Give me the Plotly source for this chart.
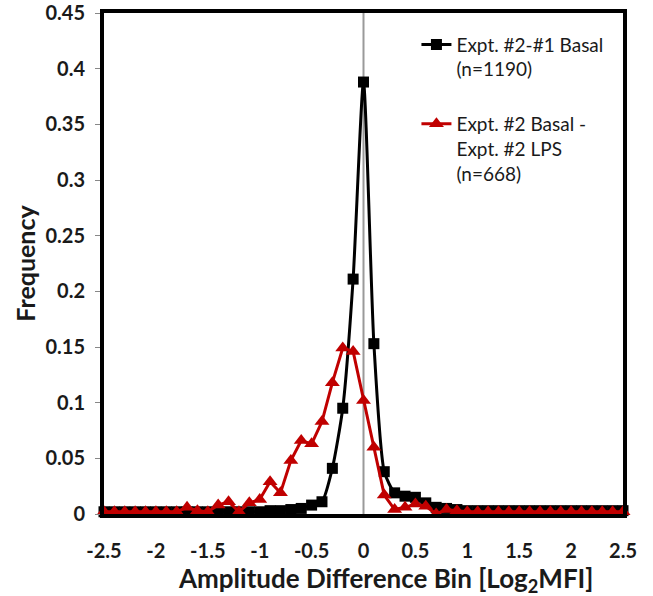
import plotly.graph_objects as go

bins = [-2.5, -2.4, -2.3, -2.2, -2.1, -2.0, -1.9, -1.8, -1.7, -1.6,
        -1.5, -1.4, -1.3, -1.2, -1.1, -1.0, -0.9, -0.8, -0.7, -0.6,
        -0.5, -0.4, -0.3, -0.2, -0.1, 0.0, 0.1, 0.2, 0.3, 0.4,
        0.5, 0.6, 0.7, 0.8, 0.9, 1.0, 1.1, 1.2, 1.3, 1.4,
        1.5, 1.6, 1.7, 1.8, 1.9, 2.0, 2.1, 2.2, 2.3, 2.4, 2.5]

basal_2_1 = [0.002, 0.002, 0.002, 0.002, 0.002, 0.002, 0.002, 0.002, 0.002, 0.002,
             0.002, 0.002, 0.002, 0.002, 0.002, 0.002, 0.003, 0.003, 0.004, 0.005,
             0.008, 0.011, 0.041, 0.095, 0.211, 0.388, 0.153, 0.038, 0.019, 0.016,
             0.015, 0.010, 0.006, 0.005, 0.004, 0.003, 0.003, 0.003, 0.003, 0.003,
             0.003, 0.003, 0.003, 0.003, 0.003, 0.003, 0.003, 0.003, 0.003, 0.003, 0.003]

basal_lps = [0.002, 0.002, 0.002, 0.002, 0.002, 0.002, 0.002, 0.002, 0.006, 0.003,
             0.002, 0.008, 0.011, 0.002, 0.010, 0.013, 0.029, 0.019, 0.048, 0.066,
             0.063, 0.083, 0.118, 0.149, 0.146, 0.102, 0.060, 0.017, 0.004, 0.006,
             0.009, 0.007, 0.000, 0.004, 0.003, 0.002, 0.002, 0.002, 0.002, 0.002,
             0.002, 0.002, 0.002, 0.002, 0.002, 0.002, 0.002, 0.002, 0.002, 0.002, 0.002]

x_tickvals = [-2.5, -2, -1.5, -1, -0.5, 0, 0.5, 1, 1.5, 2, 2.5]
x_ticktext = ["-2.5", "-2", "-1.5", "-1", "-0.5", "0", "0.5", "1", "1.5", "2", "2.5"]
y_tickvals = [0, 0.05, 0.1, 0.15, 0.2, 0.25, 0.3, 0.35, 0.4, 0.45]
y_ticktext = ["0", "0.05", "0.1", "0.15", "0.2", "0.25", "0.3", "0.35", "0.4", "0.45"]

FONT = "Lato"
RED = "#C00000"
TXT = "#1a1a1a"

fig = go.Figure()
fig.add_trace(go.Scatter(
    x=bins, y=basal_2_1, mode="lines+markers",
    name="Expt. #2-#1 Basal<br>(n=1190)", legendgroup="a",
    line=dict(color="black", width=3, shape="spline", smoothing=0.6),
    marker=dict(symbol="square", size=11, color="black"),
    cliponaxis=False,
))
fig.add_trace(go.Scatter(
    x=bins, y=basal_lps, mode="lines+markers",
    name="Expt. #2 Basal -<br>Expt. #2 LPS<br>(n=668)", legendgroup="b",
    line=dict(color=RED, width=3),
    marker=dict(symbol="triangle-up", size=13, color=RED),
    cliponaxis=False,
))

fig.add_shape(type="line", xref="x", yref="paper", x0=0, x1=0, y0=0, y1=1,
              line=dict(color="#9A9A9A", width=2), layer="below")

fig.add_annotation(
    text="Amplitude Difference Bin [Log<sub>2</sub>MFI]",
    xref="paper", yref="paper", x=(385 - 104) / 519, y=-0.13,
    xanchor="center", yanchor="middle", showarrow=False,
    font=dict(size=26, family=FONT, color=TXT, weight="bold"),
)

fig.update_layout(
    width=653, height=596,
    margin=dict(l=104, r=30, t=13, b=82, autoexpand=False),
    paper_bgcolor="white", plot_bgcolor="white",
    font=dict(family=FONT, color=TXT),
    showlegend=True,
    legend=dict(x=0.602, y=0.975, xanchor="left", yanchor="top",
                bgcolor="rgba(0,0,0,0)", font=dict(size=19, family=FONT, color=TXT),
                tracegroupgap=27, valign="top", itemwidth=30),
    xaxis=dict(range=[-2.5, 2.5], tickvals=x_tickvals, ticktext=x_ticktext,
               showgrid=False, zeroline=False, automargin=False,
               showline=True, linewidth=4, linecolor="black", mirror=True,
               ticks="", tickfont=dict(size=20, family=FONT, color=TXT, weight="bold"),
               ticklabelstandoff=16),
    yaxis=dict(range=[0, 0.45], tickvals=y_tickvals, ticktext=y_ticktext,
               showgrid=False, zeroline=False, automargin=False,
               showline=True, linewidth=4, linecolor="black", mirror=True,
               ticks="outside", ticklen=5, tickcolor="#888888", tickwidth=1,
               tickfont=dict(size=20, family=FONT, color=TXT, weight="bold"),
               ticklabelstandoff=6,
               title=dict(text="Frequency",
                          font=dict(size=25, family=FONT, color=TXT, weight="bold"),
                          standoff=4)),
)

fig.write_html("out.html")
